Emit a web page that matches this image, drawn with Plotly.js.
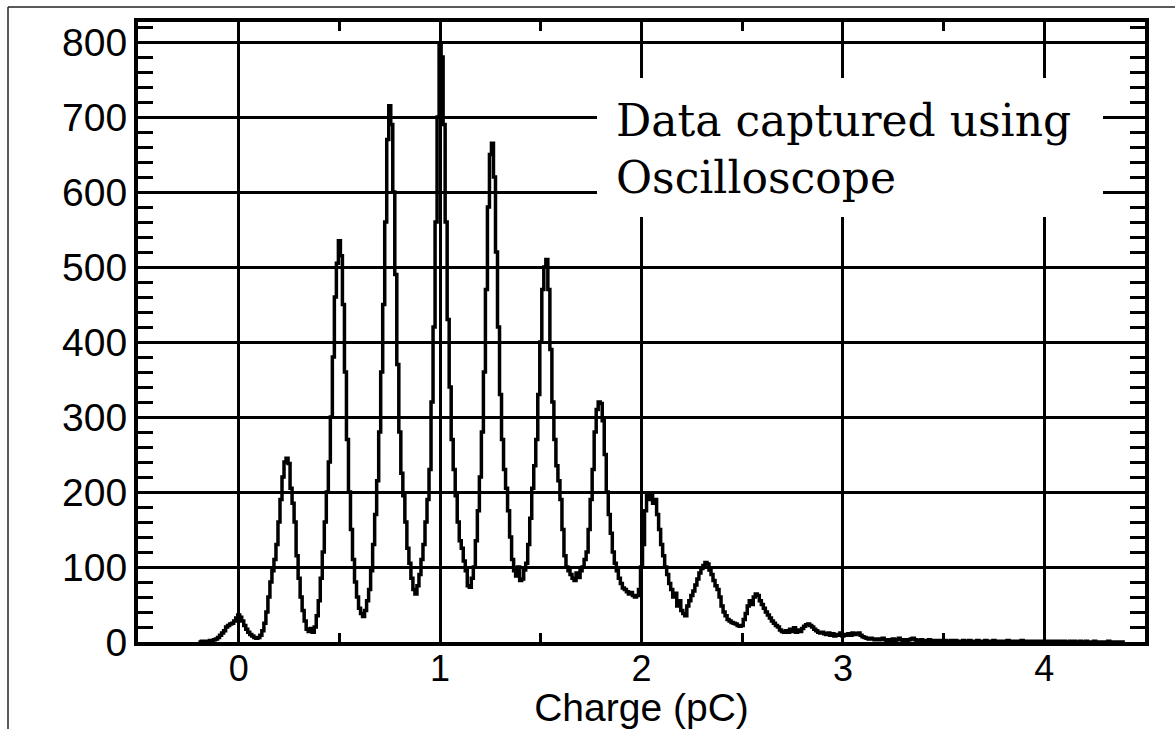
<!DOCTYPE html>
<html>
<head>
<meta charset="utf-8">
<script src="https://cdn.plot.ly/plotly-3.0.1.min.js"></script>
<style>
html,body{margin:0;padding:0;background:#ffffff;}
#chart{width:1175px;height:729px;}
</style>
</head>
<body>
<div id="chart"></div>
<script>
// ---- data ----
const binStart = -0.20;   // pC, centre of first bin
const binWidth = 0.01;    // pC
const counts = [
  0,0,1,0,1,1,2,2,3,4,
  6,9,12,15,20,22,24,25,28,32,
  36,33,28,22,17,13,10,8,6,5,
  6,9,15,25,40,60,80,95,110,130,
  160,190,220,240,245,238,205,185,160,115,
  85,60,42,28,17,14,18,13,20,35,
  55,85,120,160,200,240,300,380,460,505,
  535,515,450,360,270,200,150,110,80,60,
  45,38,34,42,55,70,95,130,170,215,
  280,360,450,560,670,715,690,600,490,370,
  280,225,195,160,125,105,85,70,64,75,
  90,110,130,160,190,230,320,420,560,700,
  795,780,690,560,430,340,270,230,195,160,
  135,125,108,95,75,73,85,100,135,175,
  220,280,360,470,580,650,665,620,520,420,
  330,270,230,205,175,140,110,95,88,100,
  82,84,96,105,130,165,205,235,270,330,
  400,470,500,510,470,390,320,270,235,215,
  190,150,115,100,95,90,85,82,92,86,
  95,100,110,120,150,190,230,280,310,320,
  318,295,250,200,170,145,120,105,95,85,
  78,72,70,67,64,66,62,60,62,70,
  100,130,175,195,190,195,185,190,170,150,
  130,115,100,90,78,70,60,65,48,55,
  42,38,35,48,55,62,68,76,84,92,
  98,102,106,104,96,90,82,75,70,60,
  48,40,35,30,28,26,25,24,22,21,
  22,30,38,48,55,50,60,64,62,55,
  50,45,40,36,32,28,25,22,20,16,
  14,13,15,13,17,14,19,13,16,14,
  18,21,23,24,22,20,17,15,13,12,
  13,11,10,12,9,11,8,10,9,12,
  8,10,9,11,9,12,10,11,12,9,
  7,6,5,4,5,4,3,4,3,4,
  5,3,2,3,2,4,2,3,5,3,
  2,3,2,3,4,5,3,2,2,3,
  2,1,2,3,2,1,2,2,1,2,
  1,2,1,1,2,1,2,1,1,1,
  2,1,1,2,1,1,1,2,1,1,
  1,2,1,1,1,2,1,1,0,1,
  1,1,2,1,1,0,1,1,1,2,
  1,1,0,1,1,1,0,1,1,1,
  1,0,1,1,0,1,1,0,1,0,
  1,0,0,1,0,1,0,0,1,0,
  0,1,0,0,0,1,0,0,0,0,
  0,0,1,0,0,0,0,0,0,0,0
];
const xTickVals = [0, 1, 2, 3, 4];
const yTickVals = [0, 100, 200, 300, 400, 500, 600, 700, 800];
const xTitle = 'Charge (pC)';
const noteText = 'Data captured using<br>Oscilloscope';

// bin centres
const charge = counts.map((_, i) => Math.round((binStart + i * binWidth) * 100) / 100);

// ---- layout geometry ----
const W = 1175, H = 729;
const M = {l: 138, r: 30, t: 22, b: 87};
const plotW = W - M.l - M.r, plotH = H - M.t - M.b;
const px = x => (x - M.l) / plotW;          // pixel -> paper x
const py = y => (H - M.b - y) / plotH;      // pixel -> paper y

const sans = 'Liberation Sans, Arial, sans-serif';

const trace = {
  x: charge,
  y: counts,
  type: 'scatter',
  mode: 'lines',
  line: {color: '#000000', width: 3.5, shape: 'hvh'},
  hoverinfo: 'skip'
};

const layout = {
  width: W, height: H,
  margin: M,
  paper_bgcolor: '#ffffff',
  plot_bgcolor: '#ffffff',
  showlegend: false,
  xaxis: {
    range: [-0.5, 4.5],
    tickmode: 'array', tickvals: xTickVals,
    showgrid: true, gridcolor: '#000000', gridwidth: 3,
    zeroline: false,
    showline: true, linecolor: '#000000', linewidth: 4, mirror: 'ticks',
    ticks: 'inside', ticklen: 9, tickwidth: 3, tickcolor: '#000000',
    minor: {dtick: 0.5, tick0: 0, ticks: 'inside', ticklen: 9, tickwidth: 3, tickcolor: '#000000', showgrid: false},
    tickfont: {family: sans, size: 36, color: '#000000'},
    ticklabelstandoff: -8,
    title: {text: xTitle, font: {family: sans, size: 39, color: '#000000'}, standoff: 4}
  },
  yaxis: {
    range: [0, plotH / 0.75],
    tickmode: 'array', tickvals: yTickVals,
    showgrid: true, gridcolor: '#000000', gridwidth: 3,
    zeroline: false,
    showline: true, linecolor: '#000000', linewidth: 4, mirror: 'ticks',
    ticks: 'inside', ticklen: 15, tickwidth: 3, tickcolor: '#000000',
    minor: {dtick: 20, tick0: 0, ticks: 'inside', ticklen: 15, tickwidth: 3, tickcolor: '#000000', showgrid: false},
    tickfont: {family: sans, size: 39, color: '#000000'},
    ticklabelstandoff: -1
  },
  shapes: [
    // white box behind the note
    {type: 'rect', xref: 'paper', yref: 'paper',
     x0: px(597), x1: px(1103), y0: py(217), y1: py(78),
     fillcolor: '#ffffff', line: {width: 0}, layer: 'above'},
    // outer frame (top and left edges)
    {type: 'line', xref: 'paper', yref: 'paper',
     x0: px(8), x1: px(1176), y0: py(7), y1: py(7),
     line: {color: '#222222', width: 1.5}},
    {type: 'line', xref: 'paper', yref: 'paper',
     x0: px(8), x1: px(8), y0: py(7), y1: py(730),
     line: {color: '#222222', width: 1.5}}
  ],
  annotations: [
    {xref: 'paper', yref: 'paper', x: px(614), y: py(149),
     xanchor: 'left', yanchor: 'middle', align: 'left',
     showarrow: false, text: noteText,
     font: {family: 'DejaVu Serif, serif', size: 44, color: '#000000'}}
  ]
};

Plotly.newPlot('chart', [trace], layout, {displayModeBar: false, staticPlot: true});
</script>
</body>
</html>
